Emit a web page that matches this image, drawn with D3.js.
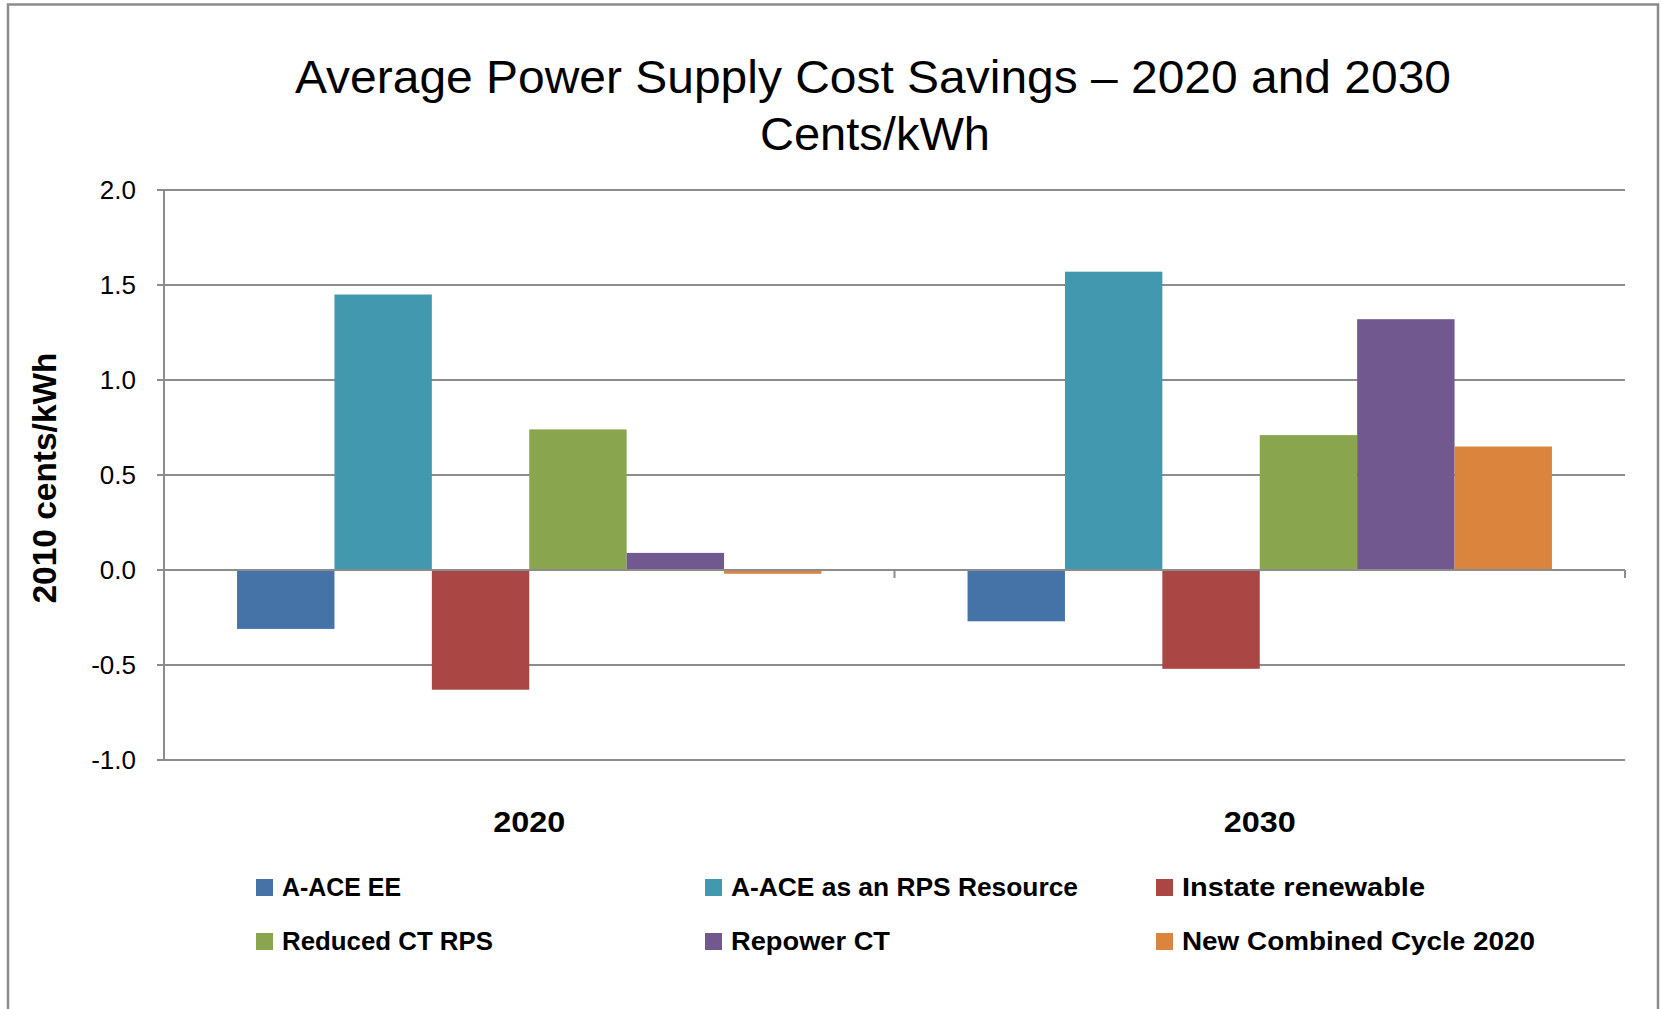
<!DOCTYPE html>
<html lang="en">
<head>
  <meta charset="UTF-8">
  <title>Average Power Supply Cost Savings</title>
  <script src="https://d3js.org/d3.v7.min.js"></script>
  <style>
    body { margin: 0; background: white; }
    text { font-family: "Liberation Sans", Arial, sans-serif; fill: black; }
  </style>
</head>
<body>
<div id="chart"></div>
<script>
  // data
  var years = ["2020", "2030"];
  var series = ["A-ACE EE", "A-ACE as an RPS Resource", "Instate renewable",
    "Reduced CT RPS", "Repower CT", "New Combined Cycle 2020"];
  var colors = ["#4572A7", "#4198AF", "#AA4643", "#89A54E", "#71588F", "#DB843D"];
  var values2020 = [-0.31, 1.45, -0.63, 0.74, 0.09, -0.02];
  var values2030 = [-0.27, 1.57, -0.52, 0.71, 1.32, 0.65];
  var yTicks = [-1.0, -0.5, 0.0, 0.5, 1.0, 1.5, 2.0];

  var W = 1661, H = 1009;
  var plotL = 164, plotR = 1625, plotT = 190, plotB = 760;
  var grey = "#8c8c8c";
  // legend label widths (the original font is narrower/wider per label)
  var legW = [119, 347, 243, 211, 159, 353];

  var svg = d3.select("#chart").append("svg")
    .attr("width", W).attr("height", H);

  // outer frame (no bottom edge visible)
  svg.append("path")
    .attr("d", "M8," + H + "V4.5H1658V" + H)
    .attr("fill", "none").attr("stroke", grey).attr("stroke-width", 2.5);

  // title
  svg.append("text").attr("x", 873).attr("y", 93)
    .attr("text-anchor", "middle").attr("font-size", 46)
    .attr("textLength", 1156).attr("lengthAdjust", "spacingAndGlyphs")
    .text("Average Power Supply Cost Savings \u2013 2020 and 2030");
  svg.append("text").attr("x", 875).attr("y", 150)
    .attr("text-anchor", "middle").attr("font-size", 46)
    .attr("textLength", 230).attr("lengthAdjust", "spacingAndGlyphs")
    .text("Cents/kWh");

  var x = d3.scaleBand().domain(years).range([plotL, plotR]);
  var xi = d3.scaleBand().domain(series).range([0, x.bandwidth()])
    .paddingInner(0).paddingOuter(0.75);
  var y = d3.scaleLinear().domain([-1, 2]).range([plotB, plotT]);

  // gridlines
  svg.append("g").selectAll("line").data(yTicks).enter().append("line")
    .attr("x1", plotL - 7).attr("x2", plotR)
    .attr("y1", d => y(d)).attr("y2", d => y(d))
    .attr("stroke", grey).attr("stroke-width", 2);

  // y axis
  svg.append("line").attr("x1", plotL).attr("x2", plotL)
    .attr("y1", plotT).attr("y2", plotB)
    .attr("stroke", grey).attr("stroke-width", 2);
  svg.append("g").selectAll("text").data(yTicks).enter().append("text")
    .attr("x", 136).attr("y", d => y(d) + 9)
    .attr("text-anchor", "end").attr("font-size", 26)
    .text(d => d3.format(".1f")(d).replace("\u2212", "-"));

  svg.append("text")
    .attr("transform", "translate(56,478) rotate(-90)")
    .attr("text-anchor", "middle").attr("font-size", 33).attr("font-weight", "bold")
    .attr("textLength", 251).attr("lengthAdjust", "spacingAndGlyphs")
    .text("2010 cents/kWh");

  // bars
  var rows = years.map((yr, i) => ({
    year: yr,
    vals: (i === 0 ? values2020 : values2030).map((v, j) => ({ s: series[j], v: v, c: colors[j] }))
  }));
  var groups = svg.append("g").selectAll("g").data(rows).enter().append("g")
    .attr("transform", d => "translate(" + x(d.year) + ",0)");
  groups.selectAll("rect").data(d => d.vals).enter().append("rect")
    .attr("x", d => xi(d.s))
    .attr("width", xi.bandwidth())
    .attr("y", d => y(Math.max(0, d.v)))
    .attr("height", d => Math.abs(y(d.v) - y(0)))
    .attr("fill", d => d.c);

  // zero axis with category ticks
  svg.append("line").attr("x1", plotL).attr("x2", plotR)
    .attr("y1", y(0)).attr("y2", y(0))
    .attr("stroke", grey).attr("stroke-width", 2);
  svg.append("g").selectAll("line").data([x("2030"), plotR]).enter().append("line")
    .attr("x1", d => d).attr("x2", d => d)
    .attr("y1", y(0)).attr("y2", y(0) + 8)
    .attr("stroke", grey).attr("stroke-width", 2);

  // category labels
  svg.append("g").selectAll("text").data(years).enter().append("text")
    .attr("x", d => x(d) + x.bandwidth() / 2).attr("y", 832)
    .attr("text-anchor", "middle").attr("font-size", 30).attr("font-weight", "bold")
    .attr("textLength", 72).attr("lengthAdjust", "spacingAndGlyphs")
    .text(d => d);

  // legend
  var legX = [256, 705, 1156], legY = [879, 933];
  var leg = svg.append("g").selectAll("g").data(series).enter().append("g")
    .attr("transform", (d, i) => "translate(" + legX[i % 3] + "," + legY[Math.floor(i / 3)] + ")");
  leg.append("rect").attr("width", 17).attr("height", 17)
    .attr("fill", (d, i) => colors[i]);
  leg.append("text").attr("x", 26).attr("y", 17)
    .attr("font-size", 25.5).attr("font-weight", "bold")
    .attr("textLength", (d, i) => legW[i]).attr("lengthAdjust", "spacingAndGlyphs")
    .text(d => d);
</script>
</body>
</html>
